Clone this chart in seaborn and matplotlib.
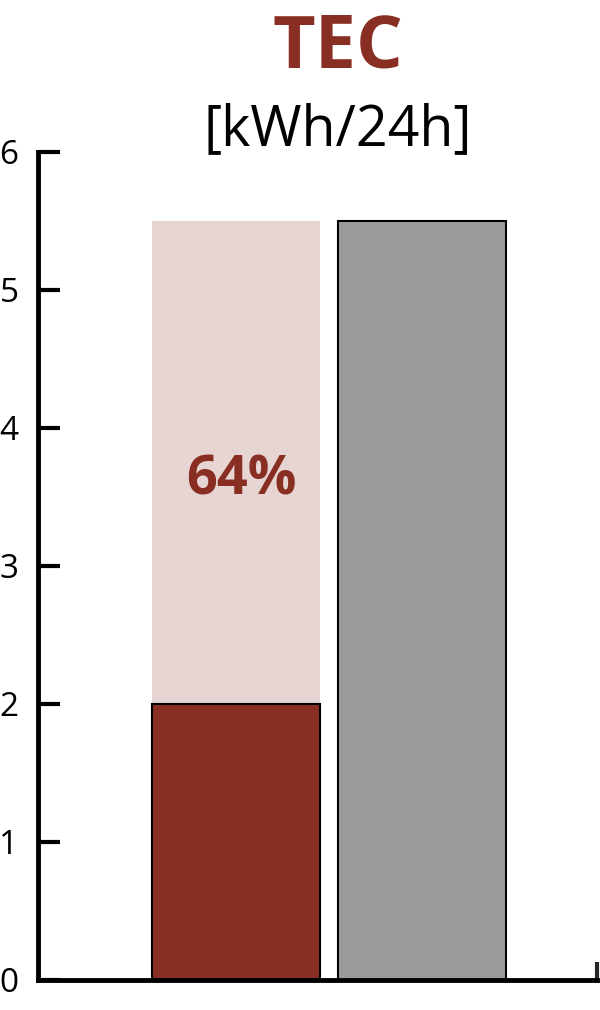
import matplotlib
matplotlib.use("Agg")
import matplotlib.pyplot as plt
import seaborn as sns
import pandas as pd

# ---- data ----
categories = ["current", "reference"]
tec_values = [2.0, 5.5]
background_values = [5.5, None]
share_label = "64%"
title_main = "TEC"
title_unit = "[kWh/24h]"
y_ticks = [0, 1, 2, 3, 4, 5, 6]

RED = "#882e22"
PINK = "#e7d5d3"
GRAY = "#9b9b9b"

sns.set_style("white")
plt.rcParams["font.family"] = ["Open Sans", "DejaVu Sans"]

df = pd.DataFrame({"cat": categories, "tec": tec_values})
bg = pd.DataFrame({"cat": categories, "tec": background_values}).dropna()

fig = plt.figure(figsize=(6, 10.1), dpi=100)
ax = fig.add_axes([38 / 600, 30 / 1010, 559 / 600, 828 / 1010])

# pale full-height bar behind the red one
sns.barplot(data=bg, x="cat", y="tec", order=categories, color=PINK,
            saturation=1, width=0.9, linewidth=0, ax=ax)
sns.barplot(data=df, x="cat", y="tec", order=categories, hue="cat",
            palette={categories[0]: RED, categories[1]: GRAY}, legend=False,
            saturation=1, width=0.9, edgecolor="black", linewidth=1.5, ax=ax)

ax.text(0.03, 3.62, share_label, color=RED, fontsize=39, fontweight="bold",
        ha="center", va="center")

ax.set_xlim(-1.065, 1.94)
ax.set_ylim(0, 6)
ax.set_yticks(y_ticks)
ax.set_yticklabels([str(t) for t in y_ticks])
ax.set_xticks([1.94])
ax.set_xticklabels([""])
ax.set_xlabel("")
ax.set_ylabel("")

for side in ["top", "right"]:
    ax.spines[side].set_visible(False)
for side in ["left", "bottom"]:
    ax.spines[side].set_linewidth(3.5)
    ax.spines[side].set_color("black")
    ax.spines[side].set_capstyle("projecting")

ax.tick_params(axis="y", left=True, direction="in", length=16, width=3,
               pad=14, labelsize=24, colors="black")
ax.tick_params(axis="x", bottom=True, direction="in", length=13, width=3)

fig.text(0.563, 1 - 67 / 1010, title_main, color=RED, fontsize=53,
         fontweight="bold", ha="center", va="baseline")
fig.text(0.563, 1 - 145 / 1010, title_unit, color="black", fontsize=40,
         ha="center", va="baseline")

fig.savefig("out.png", dpi=100)
